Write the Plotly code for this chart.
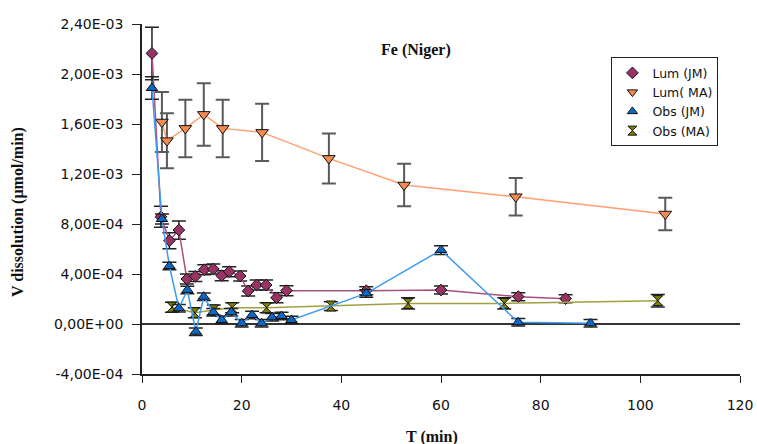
import plotly.graph_objects as go

# ---- data ----
lum_jm_x = [2, 3.8, 5.5, 7.4, 9, 10.7, 12.5, 14.3, 16, 17.5, 19.7, 21.3, 23, 24.9, 27, 29, 45, 60, 75.5, 85]
lum_jm_y = [2.165e-3, 8.58e-4, 6.67e-4, 7.52e-4, 3.6e-4, 3.81e-4, 4.35e-4, 4.4e-4, 3.87e-4, 4.19e-4,
            3.84e-4, 2.64e-4, 3.12e-4, 3.12e-4, 2.1e-4, 2.67e-4, 2.67e-4, 2.72e-4, 2.19e-4, 2.03e-4]
lum_jm_err = [2.1e-4, 8.4e-5, 6.4e-5, 7.3e-5, 4e-5, 4e-5, 4e-5, 4e-5, 4e-5, 4e-5,
              4e-5, 4e-5, 4e-5, 4e-5, 4e-5, 4e-5, 3.2e-5, 3.2e-5, 3.2e-5, 3.2e-5]

lum_ma_x = [4, 5, 8.7, 12.4, 16.2, 24.1, 37.5, 52.6, 75, 105]
lum_ma_y = [1.616e-3, 1.467e-3, 1.565e-3, 1.677e-3, 1.565e-3, 1.533e-3, 1.325e-3, 1.112e-3, 1.018e-3, 0.88e-3]
lum_ma_err = [2.4e-4, 2.2e-4, 2.3e-4, 2.5e-4, 2.3e-4, 2.3e-4, 2.0e-4, 1.7e-4, 1.5e-4, 1.3e-4]

obs_jm_x = [2, 4, 5.5, 7.4, 9.1, 10.8, 12.4, 14.3, 16, 17.9, 20, 22.1, 24, 26.1, 28, 30, 45, 60, 75.5, 90]
obs_jm_y = [1.888e-3, 8.4e-4, 4.64e-4, 1.26e-4, 2.72e-4, -6.2e-5, 2.18e-4, 9.4e-5, 3.2e-5, 9.4e-5,
            6e-6, 7.2e-5, 6e-6, 5.4e-5, 6.4e-5, 3.2e-5, 2.45e-4, 5.92e-4, 1.4e-5, 6e-6]
obs_jm_err = [9e-5, 4e-5, 3e-5, 3e-5, 3e-5, 3e-5, 3e-5, 3e-5, 3e-5, 3e-5,
              3e-5, 3e-5, 3e-5, 3e-5, 3e-5, 3e-5, 3e-5, 3.5e-5, 3e-5, 3e-5]

obs_ma_x = [6, 10.6, 14.4, 18.1, 25, 37.9, 53.4, 72.7, 103.5]
obs_ma_y = [1.35e-4, 9e-5, 1.12e-4, 1.3e-4, 1.3e-4, 1.44e-4, 1.65e-4, 1.65e-4, 1.87e-4]
obs_ma_err = [4e-5, 4e-5, 4e-5, 4e-5, 4e-5, 3.5e-5, 4.5e-5, 4.5e-5, 5e-5]

y_tickvals = [-4e-4, 0, 4e-4, 8e-4, 1.2e-3, 1.6e-3, 2.0e-3, 2.4e-3]
y_ticktext = ["-4,00E-04", "0,00E+00", "4,00E-04", "8,00E-04", "1,20E-03", "1,60E-03", "2,00E-03", "2,40E-03"]
x_tickvals = [0, 20, 40, 60, 80, 100, 120]

series = [
    ("Lum (JM)", lum_jm_x, lum_jm_y, lum_jm_err, "diamond", "#993366", "#A8507E", "#222222", 1.5, 9),
    ("Lum( MA)", lum_ma_x, lum_ma_y, lum_ma_err, "triangle-down", "#F58A50", "#FFA070", "#5a5a5a", 2, 11),
    ("Obs (JM)", obs_jm_x, obs_jm_y, obs_jm_err, "triangle-up", "#0A68C8", "#3D9BF0", "#222222", 1.5, 10),
    ("Obs (MA)", obs_ma_x, obs_ma_y, obs_ma_err, "hourglass", "#808000", "#A0A040", "#222222", 1.5, 10),
]

fig = go.Figure()
order = [1, 0, 3, 2]
for i in order:
    name, xs, ys, es, sym, mcol, lcol, ecol, ew, ms = series[i]
    fig.add_trace(go.Scatter(
        x=xs, y=ys, mode="lines+markers", name=name, showlegend=False,
        line=dict(color=lcol, width=1.5),
        marker=dict(symbol=sym, size=ms, color=mcol, line=dict(color="#111111", width=1)),
        error_y=dict(type="data", array=es, visible=True, color=ecol, thickness=ew, width=7),
    ))
for name, xs, ys, es, sym, mcol, lcol, ecol, ew, ms in series:
    fig.add_trace(go.Scatter(
        x=[None], y=[None], mode="markers", name=name, showlegend=True,
        marker=dict(symbol=sym, size=9, color=mcol, line=dict(color="#111111", width=1)),
    ))

fig.update_layout(
    width=757, height=444,
    margin=dict(l=142, r=17, t=24, b=70),
    plot_bgcolor="white", paper_bgcolor="white",
    font=dict(family="DejaVu Sans", size=14, color="#111111"),
    showlegend=True,
    legend=dict(x=0.785, y=0.905, xanchor="left", yanchor="top",
                bordercolor="#222222", borderwidth=1, bgcolor="white",
                font=dict(family="DejaVu Sans", size=12.5, color="#111111"),
                itemwidth=30, tracegroupgap=0),
    xaxis=dict(range=[0, 120], tickvals=x_tickvals, ticks="outside", ticklen=7,
               tickcolor="#222222", showline=True, linecolor="#222222", linewidth=1.5,
               showgrid=False, zeroline=False, tickfont=dict(size=14),
               automargin=False, ticklabelstandoff=10),
    yaxis=dict(range=[-4e-4, 2.4e-3], tickvals=y_tickvals, ticktext=y_ticktext,
               ticks="outside", ticklen=8, tickcolor="#222222", showline=True,
               linecolor="#222222", linewidth=1.5, showgrid=False,
               zeroline=True, zerolinecolor="#333333", zerolinewidth=1.5,
               tickfont=dict(size=14), automargin=False, ticklabelstandoff=6),
    annotations=[
        dict(text="<b>Fe (Niger)</b>", x=416, y=50,
             showarrow=False, font=dict(family="Liberation Serif", size=16, color="#111111")),
        dict(text="<b>V dissolution (µmol/min)</b>", x=18, y=212, textangle=-90,
             showarrow=False, font=dict(family="Liberation Serif", size=16, color="#111111")),
        dict(text="<b>T (min)</b>", x=432, y=437,
             showarrow=False, font=dict(family="Liberation Serif", size=16, color="#111111")),
    ],
)

# convert pixel-based annotation anchors to paper coordinates
W, H = 757, 444
l, r, t, b = 142, 17, 24, 70
pw, ph = W - l - r, H - t - b
new_ann = []
for a in fig.layout.annotations:
    px, py = a.x, a.y
    a.xref = "paper"
    a.yref = "paper"
    a.x = (px - l) / pw
    a.y = (H - b - py) / ph
    a.xanchor = "center"
    a.yanchor = "middle"
    new_ann.append(a)
fig.layout.annotations = new_ann

fig.write_html("out.html")
